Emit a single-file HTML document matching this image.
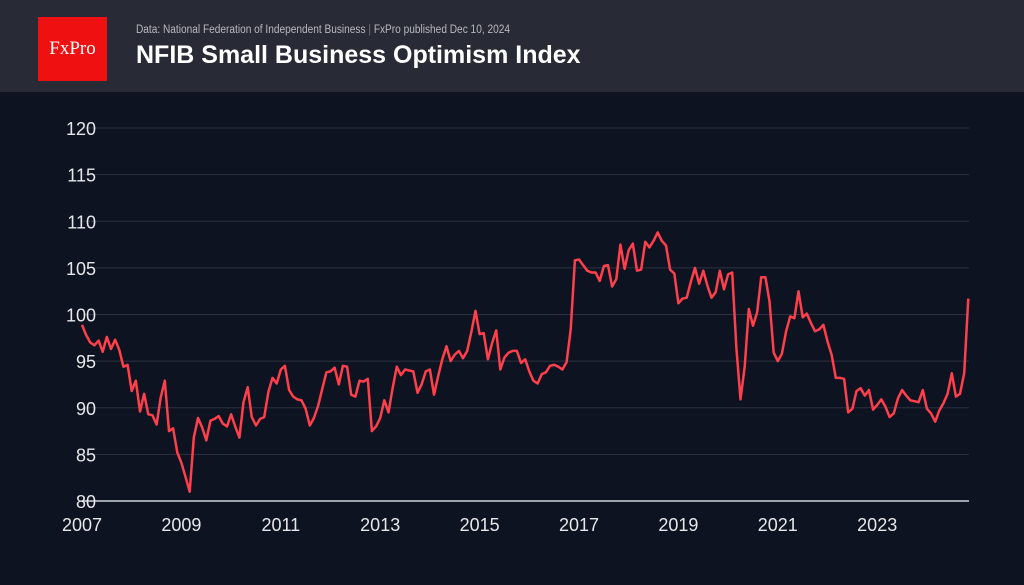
<!DOCTYPE html>
<html><head><meta charset="utf-8"><style>
body{margin:0;width:1024px;height:585px;background:#0d1320;overflow:hidden;font-family:"Liberation Sans",sans-serif}
#hdr{position:absolute;left:0;top:0;width:1024px;height:92px;background:#282a35}
#logo{position:absolute;left:38px;top:17px;width:69px;height:64px;background:#ef1111;color:#fff;font-family:"Liberation Serif",serif;font-size:19px;display:flex;align-items:center;justify-content:center}
#src{position:absolute;left:136px;top:24px;color:#b8b9c0;font-size:11.5px;transform:scaleX(0.88);transform-origin:0 0;white-space:nowrap}
#ttl{position:absolute;left:136px;top:41px;color:#fff;font-size:25px;font-weight:bold;white-space:nowrap}
svg{position:absolute;left:0;top:0}
</style></head><body>
<div id="hdr">
<div id="logo">FxPro</div>
<div id="src">Data: National Federation of Independent Business <span style="color:#777">|</span> FxPro published Dec 10, 2024</div>
<div id="ttl">NFIB Small Business Optimism Index</div>
</div>
<svg id="c" width="1024" height="585"></svg>
<script>
const startYear=2007;
const values=[98.9,97.8,97.0,96.7,97.2,96.0,97.6,96.3,97.3,96.2,94.4,94.6,
91.8,92.9,89.6,91.5,89.3,89.2,88.2,91.1,92.9,87.5,87.8,85.2,
84.1,82.6,81.0,86.8,88.9,87.9,86.5,88.6,88.8,89.1,88.3,88.0,
89.3,88.0,86.8,90.6,92.2,89.0,88.1,88.8,89.0,91.7,93.2,92.6,
94.1,94.5,91.9,91.2,90.9,90.8,89.9,88.1,88.9,90.2,92.0,93.8,
93.9,94.3,92.5,94.5,94.4,91.4,91.2,92.9,92.8,93.1,87.5,88.0,
88.9,90.8,89.5,92.1,94.4,93.5,94.1,94.0,93.9,91.6,92.5,93.9,
94.1,91.4,93.4,95.2,96.6,95.0,95.7,96.1,95.3,96.1,98.1,100.4,
97.9,98.0,95.2,96.9,98.3,94.1,95.4,95.9,96.1,96.1,94.8,95.2,
93.9,92.9,92.6,93.6,93.8,94.5,94.6,94.4,94.1,94.9,98.4,105.8,
105.9,105.3,104.7,104.5,104.5,103.6,105.2,105.3,103.0,103.8,107.5,104.9,
106.9,107.6,104.7,104.8,107.8,107.2,107.9,108.8,107.9,107.4,104.8,104.4,
101.2,101.7,101.8,103.5,105.0,103.3,104.7,103.1,101.8,102.4,104.7,102.7,
104.3,104.5,96.4,90.9,94.4,100.6,98.8,100.2,104.0,104.0,101.4,95.9,
95.0,95.8,98.2,99.8,99.6,102.5,99.7,100.1,99.1,98.2,98.4,98.9,
97.1,95.7,93.2,93.2,93.1,89.5,89.9,91.8,92.1,91.3,91.9,89.8,
90.3,90.9,90.1,89.0,89.4,91.0,91.9,91.3,90.8,90.7,90.6,91.9,
89.9,89.4,88.5,89.7,90.5,91.5,93.7,91.2,91.5,93.7,101.7];
const yTicks=[80,85,90,95,100,105,110,115,120];
const xTicks=[2007,2009,2011,2013,2015,2017,2019,2021,2023];
const NS='http://www.w3.org/2000/svg';
const svg=document.getElementById('c');
const X=t=>82+(t-2007)*49.7;
const Y=v=>501-(v-80)*(373/40);
function mk(tag,a){const e=document.createElementNS(NS,tag);for(const k in a)e.setAttribute(k,a[k]);svg.appendChild(e);return e;}
yTicks.forEach(v=>{
 const l=mk('line',{x1:83,x2:969,y1:Y(v),y2:Y(v),stroke:v===80?'#d0d2d8':'#2c3140','stroke-width':v===80?1.5:1});
 
 
 const t=mk('text',{x:96,y:Y(v)+7,'text-anchor':'end',fill:'#e6e7ea','font-size':18,'font-family':'Liberation Sans, sans-serif'});
 t.textContent=v;
 
 
});
xTicks.forEach(y=>{
 const t=mk('text',{x:X(y),y:531,'text-anchor':'middle',fill:'#e6e7ea','font-size':18,'font-family':'Liberation Sans, sans-serif'});
 t.textContent=y;
 
 
});
const pts=values.map((v,i)=>X(startYear+i/12).toFixed(1)+','+Y(v).toFixed(1)).join(' ');
const pl=mk('polyline',{points:pts,fill:'none',stroke:'#ff3f4c','stroke-width':2.5,'stroke-linejoin':'round'});


</script>
</body></html>
